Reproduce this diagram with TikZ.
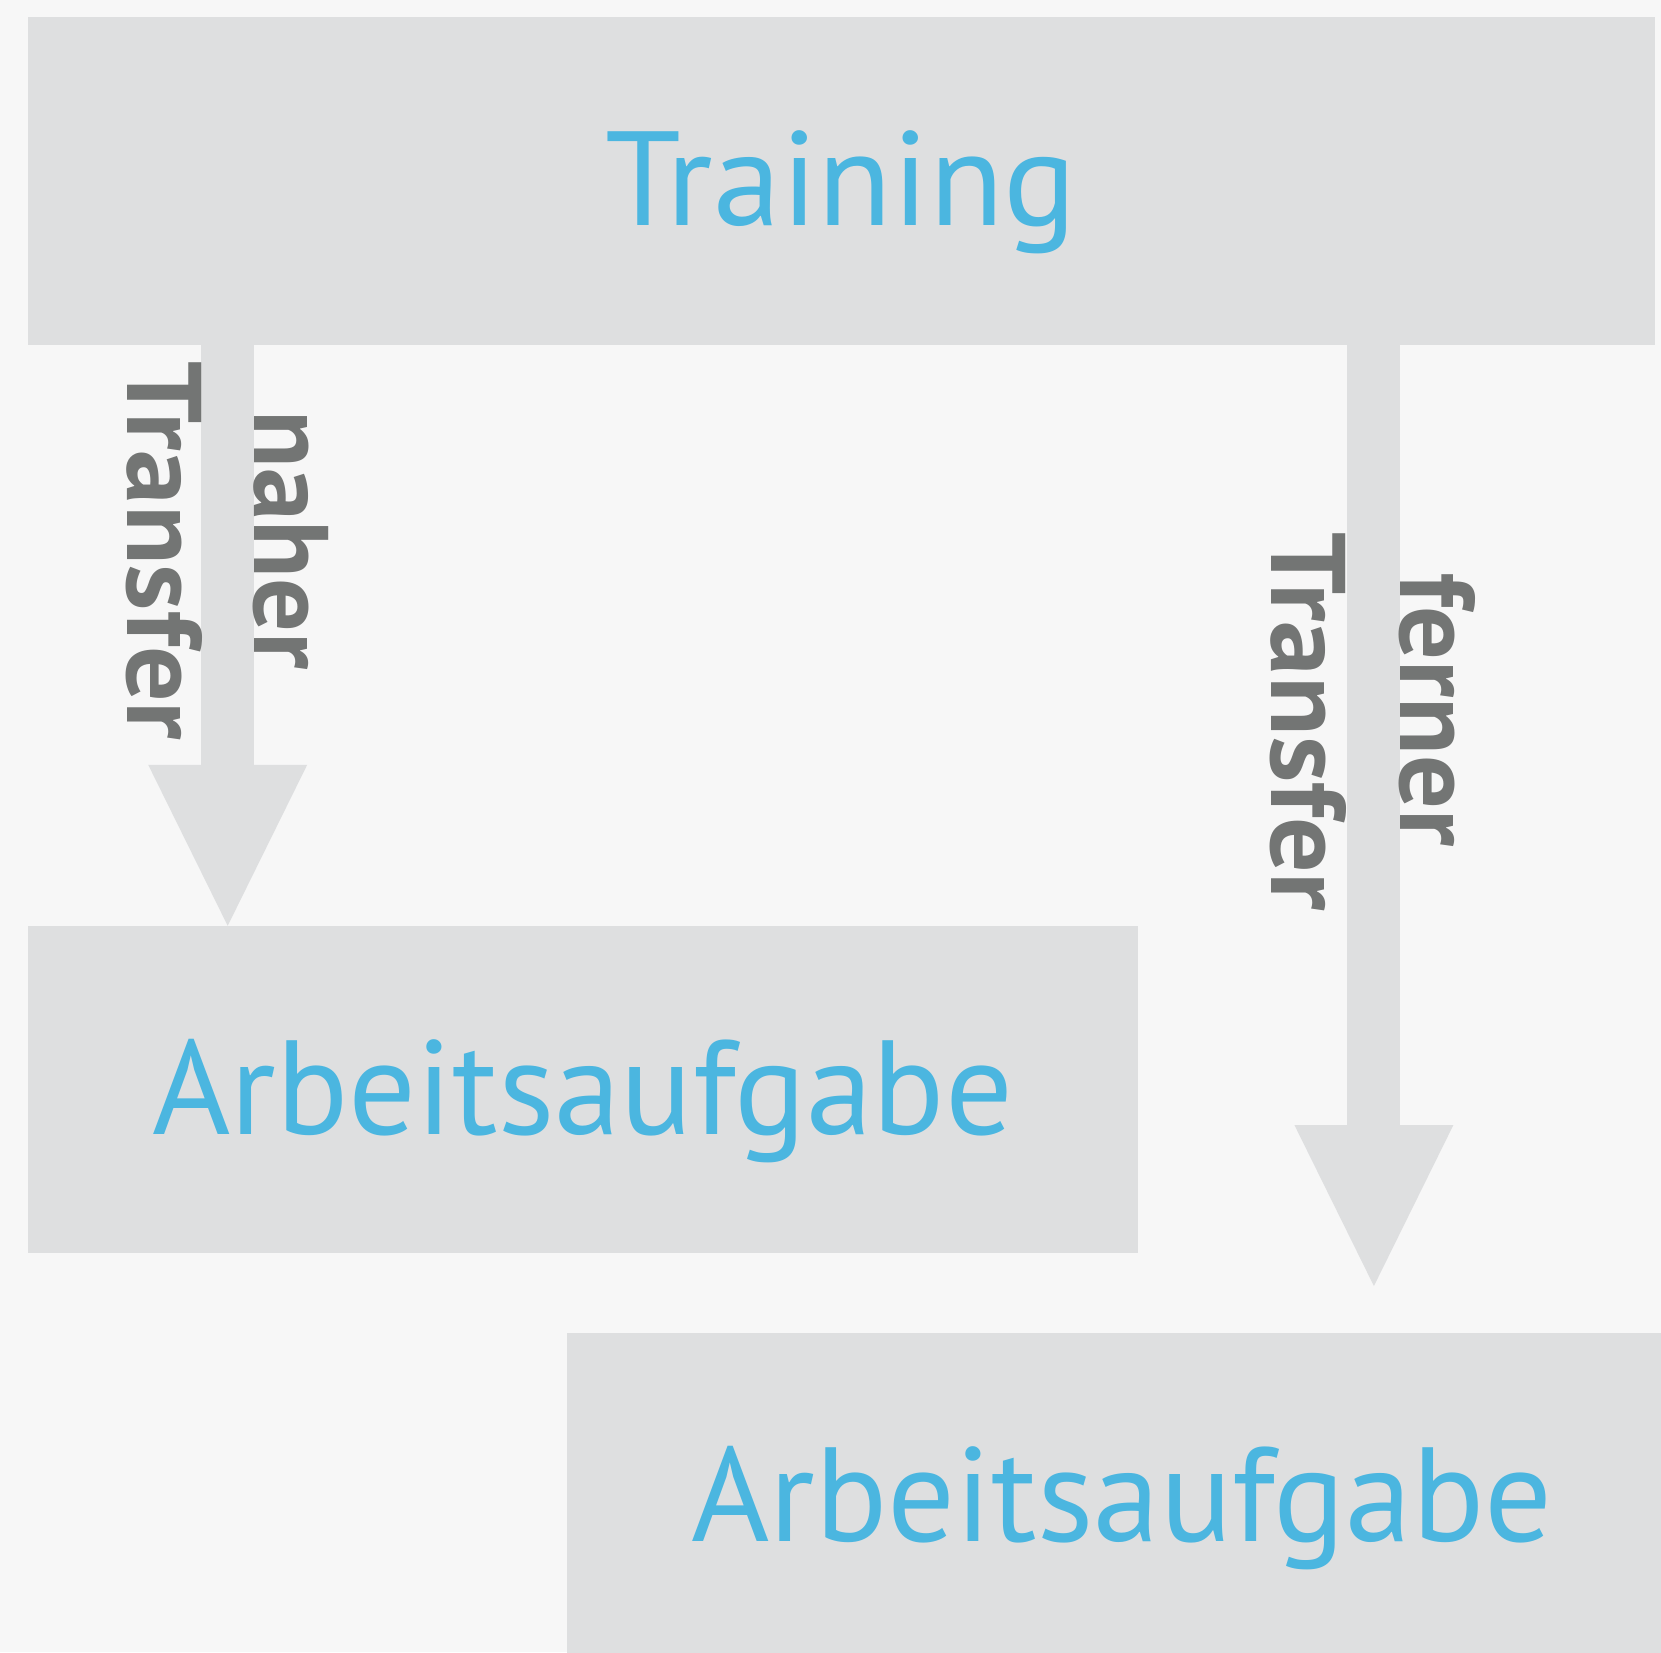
\documentclass[tikz,border=0pt]{standalone}
\usepackage{fontspec}
\setmainfont{PT Sans}
\usetikzlibrary{arrows.meta}
\definecolor{bg}{HTML}{F7F7F7}
\definecolor{boxgray}{HTML}{DEDFE0}
\definecolor{txtblue}{HTML}{4BB6E0}
\definecolor{lblgray}{HTML}{737574}
\begin{document}
\begin{tikzpicture}[x=1pt,y=-1pt,
  box/.style={fill=boxgray, draw=none, inner sep=0pt, anchor=north west, text=txtblue,
    font=\fontsize{134}{160}\selectfont, text height=95pt, text depth=5pt},
  bigarrow/.style={draw=boxgray, line width=53pt,
    -{Triangle[length=161pt,width=159pt,line width=0pt]}},
  lbl/.style={rotate=-90, anchor=base, inner sep=0pt, text=lblgray,
    font=\bfseries\fontsize{106}{127}\selectfont}]
\useasboundingbox (0,0) rectangle (1661,1652);
\fill[bg] (0,0) rectangle (1661,1652);
\clip (0,0) rectangle (1661,1652);
\node[box, minimum width=1627.1pt, minimum height=327.3pt] (train) at (27.5,17) {\scalebox{1.02}[1]{Training}};
\node[box, minimum width=1110.2pt, minimum height=327.4pt] (box2) at (27.5,925.8) {Arbeitsaufgabe};
\node[box, minimum width=1110.2pt, minimum height=327.4pt] (box3) at (566.7,1332.6) {Arbeitsaufgabe};
\coordinate (lx) at (227.7,0);
\coordinate (rx) at (1373.9,0);
\draw[bigarrow] (train.south -| lx) -- (box2.north -| lx);
\draw[bigarrow, shorten >=46.6pt] (train.south -| rx) -- (box3.north -| rx);
\node[lbl] (naher) at (254.2,540) {naher};
\node[lbl] (transfer1) at (127.1,550.8) {\scalebox{1.035}[1]{Transfer}};
\node[lbl] (ferner) at (1400.4,709.8) {ferner};
\node[lbl] (transfer2) at (1271.2,721.9) {\scalebox{1.035}[1]{Transfer}};
\end{tikzpicture}
\end{document}
